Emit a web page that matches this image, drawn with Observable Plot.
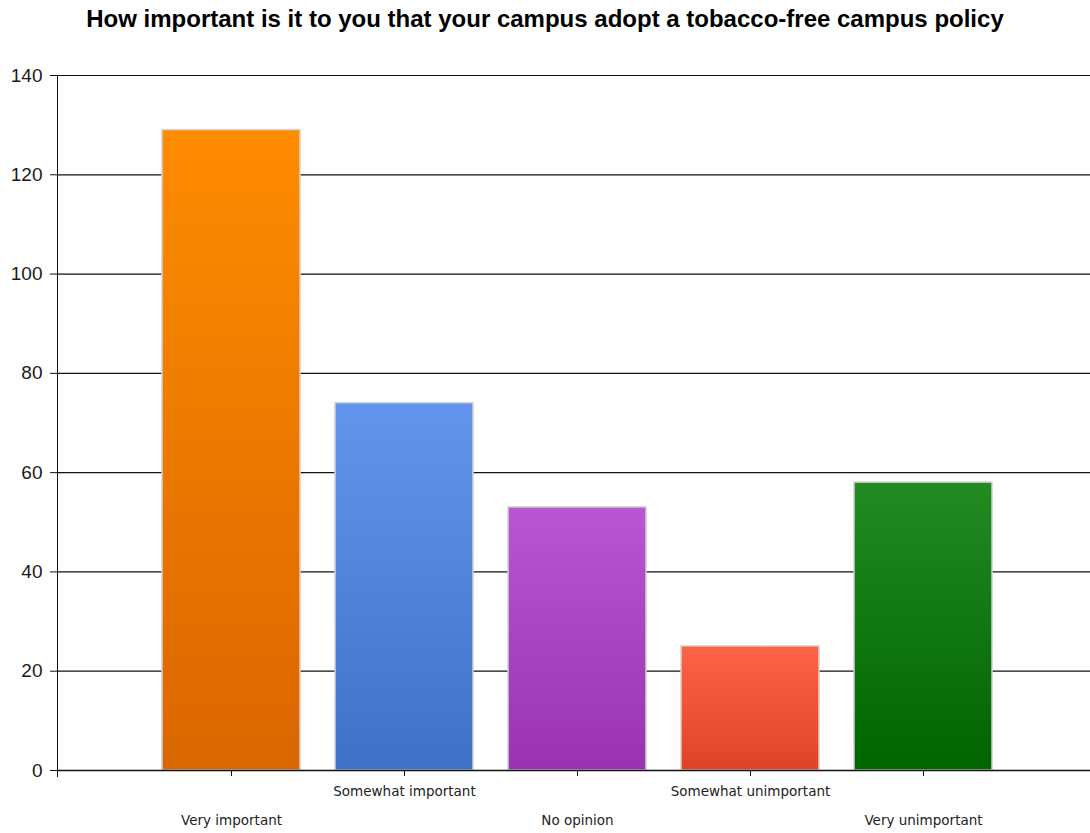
<!DOCTYPE html>
<html><head><meta charset="utf-8">
<script src="https://cdn.jsdelivr.net/npm/d3@7"></script>
<script src="https://cdn.jsdelivr.net/npm/@observablehq/plot@0.6"></script>
<style>
body{margin:0;background:#fff;}
#title{box-sizing:border-box;height:40px;padding-top:5px;line-height:34px;font:bold 24px "Liberation Sans",Arial,sans-serif;color:#000;text-align:center;white-space:nowrap;}
#chart svg{display:block;overflow:visible;}
</style></head>
<body>
<div id="title">How important is it to you that your campus adopt a tobacco-free campus policy</div>
<div id="chart"></div>
<script>
const categories = ["Very important", "Somewhat important", "No opinion", "Somewhat unimportant", "Very unimportant"];
const counts = [129, 74, 53, 25, 58];
const yTicks = [0, 20, 40, 60, 80, 100, 120, 140];
const gradTop = ["#FF8C00", "#6495ED", "#BA55D3", "#FF6347", "#228B22"];
const gradBottom = ["#DA6600", "#4070C8", "#9933AF", "#DE4328", "#006400"];

const data = categories.map((c, i) => ({category: c, count: counts[i], grad: `url(#barGrad${i})`, row: i % 2}));

const svg = Plot.plot({
  width: 1090,
  height: 793,
  marginLeft: 57,
  marginRight: 0,
  marginTop: 35,
  marginBottom: 63,
  style: {fontFamily: "'Liberation Sans', Arial, sans-serif", background: "#fff"},
  x: {type: "band", domain: categories, range: [57, 1098], paddingInner: 0.2, paddingOuter: 0.6, axis: null},
  y: {domain: [0, 140], axis: null},
  color: {type: "identity"},
  marks: [
    Plot.gridY(yTicks, {stroke: "#111", strokeOpacity: 1, strokeWidth: 1.2}),
    Plot.axisY(yTicks, {tickSize: 7, tickPadding: 8, label: null, fontSize: 19, fill: "#1a1a1a", stroke: "#111", tickFormat: d => d}),
    Plot.barY(data, {x: "category", y: "count", fill: "grad", stroke: "#d2d2d2", strokeWidth: 1.5}),
    Plot.ruleY([0], {stroke: "#111", strokeWidth: 1.3}),
    Plot.frame({anchor: "left", stroke: "#111", insetBottom: -6}),
    Plot.axisX({tickSize: 6, tickFormat: () => "", stroke: "#111", label: null}),
    Plot.text(data.filter(d => d.row === 1), {x: "category", text: "category", frameAnchor: "bottom", dy: 21, fontSize: 13.5, fill: "#222", fontFamily: "'DejaVu Sans', sans-serif", lineAnchor: "middle"}),
    Plot.text(data.filter(d => d.row === 0), {x: "category", text: "category", frameAnchor: "bottom", dy: 50, fontSize: 13.5, fill: "#222", fontFamily: "'DejaVu Sans', sans-serif", lineAnchor: "middle"})
  ]
});

const defs = d3.select(svg).insert("defs", ":first-child");
categories.forEach((c, i) => {
  const g = defs.append("linearGradient").attr("id", `barGrad${i}`).attr("x1", 0).attr("y1", 0).attr("x2", 0).attr("y2", 1);
  g.append("stop").attr("offset", "0%").attr("stop-color", gradTop[i]);
  g.append("stop").attr("offset", "100%").attr("stop-color", gradBottom[i]);
});

document.getElementById("chart").appendChild(svg);
</script>
</body></html>
